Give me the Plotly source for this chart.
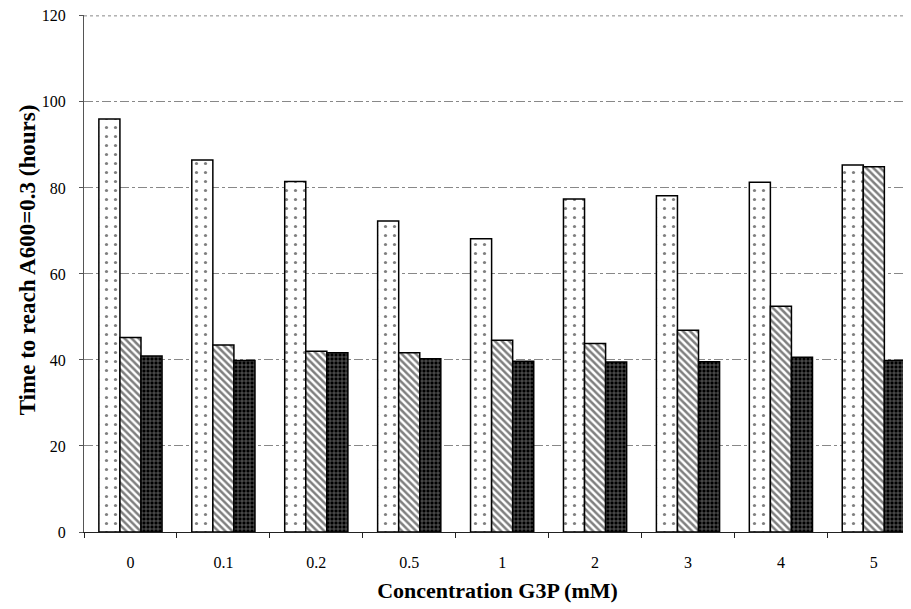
import plotly.graph_objects as go

categories = ["0", "0.1", "0.2", "0.5", "1", "2", "3", "4", "5"]
series_dotted = [96, 86.5, 81.5, 72.3, 68.2, 77.4, 78.2, 81.3, 85.3]
series_hatched = [45.2, 43.5, 42.0, 41.7, 44.6, 43.8, 46.9, 52.5, 84.9]
series_grid = [40.9, 39.9, 41.7, 40.3, 39.7, 39.5, 39.6, 40.6, 39.9]
y_ticks = [0, 20, 40, 60, 80, 100, 120]

FONT = "Liberation Serif, Times New Roman, serif"

fig = go.Figure()
fig.add_trace(go.Bar(
    x=categories, y=series_dotted, name="A",
    marker=dict(color="white", line=dict(color="black", width=1.5),
                pattern=dict(shape=".", fgcolor="black", bgcolor="white", size=9, solidity=0.1)),
))
fig.add_trace(go.Bar(
    x=categories, y=series_hatched, name="B",
    marker=dict(color="white", line=dict(color="black", width=1.5),
                pattern=dict(shape="\\", fgcolor="black", bgcolor="white", size=5, solidity=0.5)),
))
fig.add_trace(go.Bar(
    x=categories, y=series_grid, name="C",
    marker=dict(color="black", line=dict(color="black", width=1.5),
                pattern=dict(shape="+", fgcolor="white", bgcolor="black", size=4, solidity=0.3)),
))

fig.update_layout(
    width=903, height=601,
    margin=dict(l=76, r=0, t=7, b=77),
    paper_bgcolor="white", plot_bgcolor="white",
    barmode="group", bargap=0.32, bargroupgap=0,
    showlegend=False,
    font=dict(family=FONT, color="black", size=16),
    annotations=[dict(
        text="<b>Time to reach A600=0.3 (hours)</b>",
        xref="paper", yref="paper", x=-0.068, y=0.527,
        xanchor="center", yanchor="middle", textangle=-90, showarrow=False,
        font=dict(family=FONT, size=23),
    )],
    shapes=[dict(
        type="line", xref="paper", yref="y", x0=0, x1=1,
        y0=y_ticks[-1], y1=y_ticks[-1],
        line=dict(color="#888", width=1, dash="dot"), layer="below",
    )],
)
fig.update_xaxes(
    range=[-0.5, 8.4],
    showline=True, linecolor="#222", linewidth=1,
    ticks="outside", tickson="boundaries", ticklen=5, tickcolor="#222",
    ticklabelstandoff=16,
    tickfont=dict(family=FONT, size=16),
    showgrid=False,
    title=dict(text="<b>Concentration G3P (mM)</b>", font=dict(family=FONT, size=22), standoff=12),
)
fig.update_yaxes(
    range=[0, 120.2], tickvals=y_ticks,
    showline=True, linecolor="#555", linewidth=1,
    ticks="outside", ticklen=4, tickcolor="#555",
    ticklabelstandoff=10, ticklabeloverflow="allow",
    tickfont=dict(family=FONT, size=16),
    showgrid=True, gridcolor="#888", gridwidth=1, griddash="dashdot",
    zeroline=False,
)

fig.write_html("out.html")
